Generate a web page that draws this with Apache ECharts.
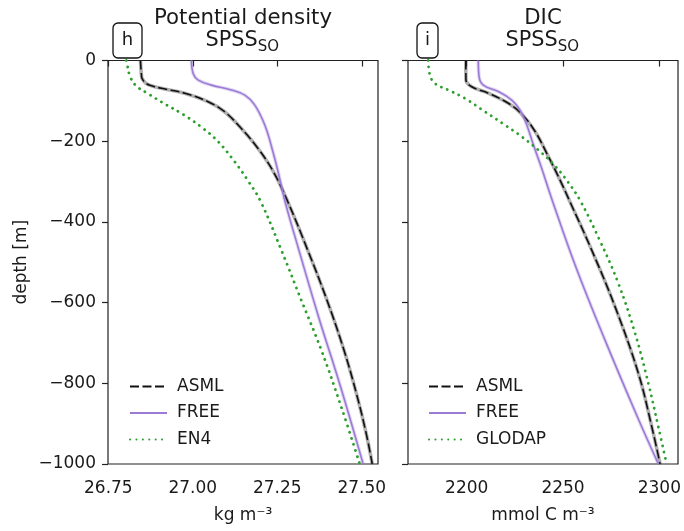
<!DOCTYPE html>
<html>
<head>
<meta charset="utf-8">
<script src="https://cdn.jsdelivr.net/npm/echarts@6/dist/echarts.min.js"></script>
<style>
html,body{margin:0;padding:0;background:#fff;}
#chart{width:684px;height:531px;}
</style>
</head>
<body>
<div id="chart"></div>
<script>
// ---- Data (depth in m) ----
const densAsmlDepth = [0, -36, -45, -57, -63, -69, -81, -102, -127, -168, -218, -275, -348, -470, -594, -717, -825, -924, -1000];
const densAsml      = [26.845, 26.848, 26.850, 26.862, 26.880, 26.907, 26.976, 27.045, 27.094, 27.143, 27.193, 27.238, 27.280, 27.340, 27.397, 27.447, 27.484, 27.513, 27.531];
const densFreeDepth = [0, -32, -48, -61, -73, -86, -110, -160, -226, -292, -350, -470, -635, -808, -1000];
const densFree      = [26.996, 27.001, 27.015, 27.055, 27.114, 27.154, 27.183, 27.213, 27.237, 27.257, 27.273, 27.314, 27.372, 27.437, 27.504];
const densEn4Depth  = [0, -7, -36, -61, -81, -110, -135, -168, -201, -251, -300, -348, -470, -594, -717, -858, -1000];
const densEn4       = [26.803, 26.805, 26.813, 26.830, 26.865, 26.922, 26.974, 27.030, 27.075, 27.124, 27.165, 27.200, 27.262, 27.321, 27.380, 27.439, 27.494];

const dicAsmlDepth  = [0, -48, -65, -81, -106, -133, -176, -238, -296, -348, -470, -610, -775, -908, -1000];
const dicAsml       = [2199.5, 2199.6, 2202.6, 2211.2, 2221.6, 2228.6, 2235.5, 2242.4, 2248.4, 2253.4, 2264.9, 2277.0, 2289.1, 2296.1, 2300.4];
const dicFreeDepth  = [0, -40, -61, -77, -98, -123, -160, -209, -267, -348, -511, -693, -883, -1000];
const dicFree       = [2206.0, 2206.4, 2208.6, 2216.4, 2223.4, 2227.7, 2231.2, 2234.6, 2238.9, 2244.5, 2256.6, 2271.8, 2288.6, 2299.5];
const dicGlodapDepth= [0, -36, -57, -73, -94, -127, -160, -189, -222, -259, -300, -348, -445, -552, -676, -800, -908, -1000];
const dicGlodap     = [2180.0, 2180.9, 2183.5, 2190.4, 2199.1, 2209.5, 2219.9, 2228.6, 2237.2, 2245.4, 2252.4, 2259.0, 2269.0, 2278.7, 2287.4, 2294.3, 2299.5, 2303.8];

const densTicks = [26.75, 27.00, 27.25, 27.50];
const dicTicks  = [2200, 2250, 2300];

const panelTitles = ['Potential density', 'DIC'];
const panelTags = ['h', 'i'];
const legendLeft = ['ASML', 'FREE', 'EN4'];
const legendRight = ['ASML', 'FREE', 'GLODAP'];

// ---- helpers ----
const FONT = 'DejaVu Sans';
const TXT = '#1a1a1a';
function pairs(xs, ds){ return xs.map((v,i)=>[v, ds[i]]); }
const BLACK = '#111111', PURPLE = '#9b7bd6', GREEN = '#2ca02c';
const SM = 0.4;

function seriesSet(idx, asml, asmlD, free, freeD, obs, obsD, obsName){
  return [
    {name: 'ASML band', type:'line', xAxisIndex: idx, yAxisIndex: idx, data: pairs(asml, asmlD), symbol:'none', smooth:SM,
     lineStyle:{color:'rgba(80,80,80,0.45)', width:3.6}, silent:true, z:1},
    {name: 'ASML', type:'line', xAxisIndex: idx, yAxisIndex: idx, data: pairs(asml, asmlD), symbol:'none', smooth:SM,
     lineStyle:{color:BLACK, width:1.6, type:[9,3.5]}, itemStyle:{color:BLACK}, z:2},
    {name: 'FREE band', type:'line', xAxisIndex: idx, yAxisIndex: idx, data: pairs(free, freeD), symbol:'none', smooth:SM,
     lineStyle:{color:'rgba(155,123,214,0.3)', width:3.6}, silent:true, z:3},
    {name: 'FREE', type:'line', xAxisIndex: idx, yAxisIndex: idx, data: pairs(free, freeD), symbol:'none', smooth:SM,
     lineStyle:{color:PURPLE, width:1.6}, itemStyle:{color:PURPLE}, z:4},
    {name: obsName, type:'line', xAxisIndex: idx, yAxisIndex: idx, data: pairs(obs, obsD), symbol:'none', smooth:SM,
     lineStyle:{color:GREEN, width:2.8, type:[0.1,6.3], cap:'round'}, itemStyle:{color:GREEN}, z:5}
  ];
}

function xAxisDef(idx, min, max, ticks, fmt, name){
  return {type:'value', gridIndex: idx, min, max, scale:true,
    axisLine:{show:false}, splitLine:{show:false},
    axisTick:{show:true, customValues:ticks, length:6, lineStyle:{color:'#222', width:1.2}},
    axisLabel:{customValues:ticks, formatter:fmt, fontSize:17, color:TXT, fontFamily:FONT, margin:16},
    name, nameLocation:'middle', nameGap:43, nameTextStyle:{fontSize:17, color:TXT, fontFamily:FONT}};
}
function yAxisDef(idx, showLabels){
  return {type:'value', gridIndex: idx, min:-1000, max:0, interval:200,
    axisLine:{show:false}, splitLine:{show:false},
    axisTick:{show:true, length:6, lineStyle:{color:'#222', width:1.2}},
    axisLabel:{show:showLabels, fontSize:17, color:TXT, fontFamily:FONT, margin:12,
      formatter: v => v < 0 ? '\u2212' + Math.abs(v) : String(v)},
    name: showLabels ? 'depth [m]' : '', nameLocation:'middle', nameGap:78,
    nameTextStyle:{fontSize:17, color:TXT, fontFamily:FONT}};
}

const chart = echarts.init(document.getElementById('chart'), null, {renderer:'canvas'});
const legendCommon = {orient:'vertical', itemWidth:37, itemHeight:14, itemGap:9.5, selectedMode:false,
  itemStyle:{opacity:0},
  textStyle:{fontSize:17, color:TXT, fontFamily:FONT, padding:[0,0,0,5]}};

const graphic = [];
const centers = [243, 543];
const subStart = [205.5, 505.5];
[0,1].forEach(i=>{
  graphic.push({type:'text', z:50, style:{text: panelTitles[i], x: centers[i], y: 18, textAlign:'center', textVerticalAlign:'middle', fontSize:21.3, fontFamily:FONT, fill:TXT}});
  graphic.push({type:'text', z:50, style:{text: 'SPSS', x: subStart[i], y: 41, textAlign:'left', textVerticalAlign:'middle', fontSize:20.8, fontFamily:FONT, fill:TXT}});
  graphic.push({type:'text', z:50, style:{text: 'SO', x: subStart[i] + 52.2, y: 47.5, textAlign:'left', textVerticalAlign:'middle', fontSize:15, fontFamily:FONT, fill:TXT}});
});
graphic.push({type:'rect', z:50, shape:{x:113, y:23, width:29, height:35, r:5}, style:{fill:'#fff', stroke:'#111', lineWidth:1.3}});
graphic.push({type:'text', z:51, style:{text: panelTags[0], x:127.5, y:40.5, textAlign:'center', textVerticalAlign:'middle', fontSize:18, fontFamily:FONT, fill:TXT}});
graphic.push({type:'rect', z:50, shape:{x:417, y:23, width:21, height:35, r:5}, style:{fill:'#fff', stroke:'#111', lineWidth:1.3}});
graphic.push({type:'text', z:51, style:{text: panelTags[1], x:427.5, y:40.5, textAlign:'center', textVerticalAlign:'middle', fontSize:18, fontFamily:FONT, fill:TXT}});

chart.setOption({
  animation:false,
  backgroundColor:'#fff',
  textStyle:{fontFamily:FONT},
  grid:[
    {left:108, top:60.5, width:270, height:403.5, show:true, borderColor:'#222', borderWidth:1.2, backgroundColor:'transparent', containLabel:false},
    {left:408, top:60.5, width:270, height:403.5, show:true, borderColor:'#222', borderWidth:1.2, backgroundColor:'transparent', containLabel:false}
  ],
  xAxis:[
    xAxisDef(0, 26.749, 27.548, densTicks, v => v.toFixed(2), 'kg m\u207B\u00B3'),
    xAxisDef(1, 2169.5, 2309.7, dicTicks, v => String(Math.round(v)), 'mmol C m\u207B\u00B3')
  ],
  yAxis:[ yAxisDef(0, true), yAxisDef(1, false) ],
  legend:[
    Object.assign({data: legendLeft, left:124, top:373}, legendCommon),
    Object.assign({data: legendRight, left:423, top:373}, legendCommon)
  ],
  graphic,
  series: [
    ...seriesSet(0, densAsml, densAsmlDepth, densFree, densFreeDepth, densEn4, densEn4Depth, 'EN4'),
    ...seriesSet(1, dicAsml, dicAsmlDepth, dicFree, dicFreeDepth, dicGlodap, dicGlodapDepth, 'GLODAP')
  ]
});
</script>
</body>
</html>
